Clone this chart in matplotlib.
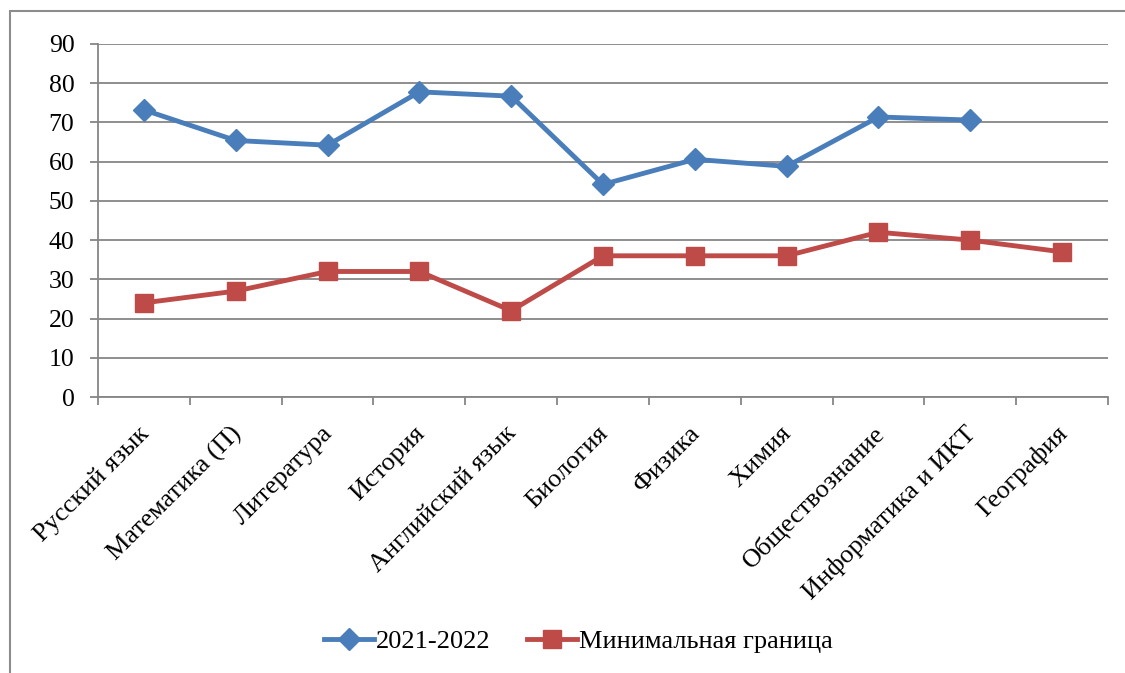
import numpy as np
import matplotlib.pyplot as plt
from matplotlib.patches import Rectangle
from matplotlib.transforms import ScaledTranslation

subjects = ["Русский язык", "Математика (П)", "Литература", "История",
            "Английский язык", "Биология", "Физика", "Химия",
            "Обществознание", "Информатика и ИКТ", "География"]
scores_2122 = [73.2, 65.4, 64.2, 77.8, 76.7, 54.2, 60.6, 58.8, 71.4, 70.6, np.nan]
min_border = [24, 27, 32, 32, 22, 36, 36, 36, 42, 40, 37]

plt.rcParams['font.family'] = ['Liberation Serif', 'DejaVu Serif']

fig = plt.figure(figsize=(11.25, 6.73), dpi=100)
W, H = 1125, 673
ax = fig.add_axes([98 / W, 1 - 397 / H, (1108 - 98) / W, (397 - 44) / H])

# outer chart border
fig.patches.append(Rectangle((10 / W, -0.01), 1.2, 1 - 11 / H + 0.01,
                             transform=fig.transFigure, fill=False,
                             edgecolor='#8c8c8c', linewidth=1.5))

x = np.arange(len(subjects))
ax.plot(x, scores_2122, color='#4A7EBB', lw=3.5, marker='D', ms=11,
        label='2021-2022')
ax.plot(x, min_border, color='#BE4B48', lw=3.5, marker='s', ms=13,
        label='Минимальная граница')

ax.set_xlim(-0.5, len(subjects) - 0.5)
ax.set_ylim(0, 90)
ax.set_yticks(range(0, 91, 10))
ax.yaxis.grid(True, color='#868686', lw=1.3)
ax.set_axisbelow(True)

ax.set_xticks(np.arange(-0.5, len(subjects), 1))
ax.set_xticklabels([])
ax.set_xticks(x, minor=True)
ax.set_xticklabels(subjects, minor=True, rotation=45, ha='right',
                   rotation_mode='anchor', fontsize=19)
ax.tick_params(axis='x', which='minor', length=0, pad=18)
ax.tick_params(axis='x', which='major', length=6, color='#868686', width=1.3)
ax.tick_params(axis='y', length=6, color='#868686', width=1.3, labelsize=18.5,
               pad=11)
# nudge labels a bit left so their ends sit right at the category
shift = ScaledTranslation(-6 / 100, 0, fig.dpi_scale_trans)
for lbl in ax.get_xticklabels(minor=True):
    lbl.set_transform(lbl.get_transform() + shift)

for s in ['top', 'right']:
    ax.spines[s].set_visible(False)
for s in ['left', 'bottom']:
    ax.spines[s].set_color('#868686')
    ax.spines[s].set_linewidth(1.3)

fig.legend(loc='center', bbox_to_anchor=(0.514, 1 - 641 / H), ncol=2,
           frameon=False, fontsize=19, handlelength=1.9, columnspacing=1.4,
           handletextpad=0.05)

fig.savefig('out.png', dpi=100)
